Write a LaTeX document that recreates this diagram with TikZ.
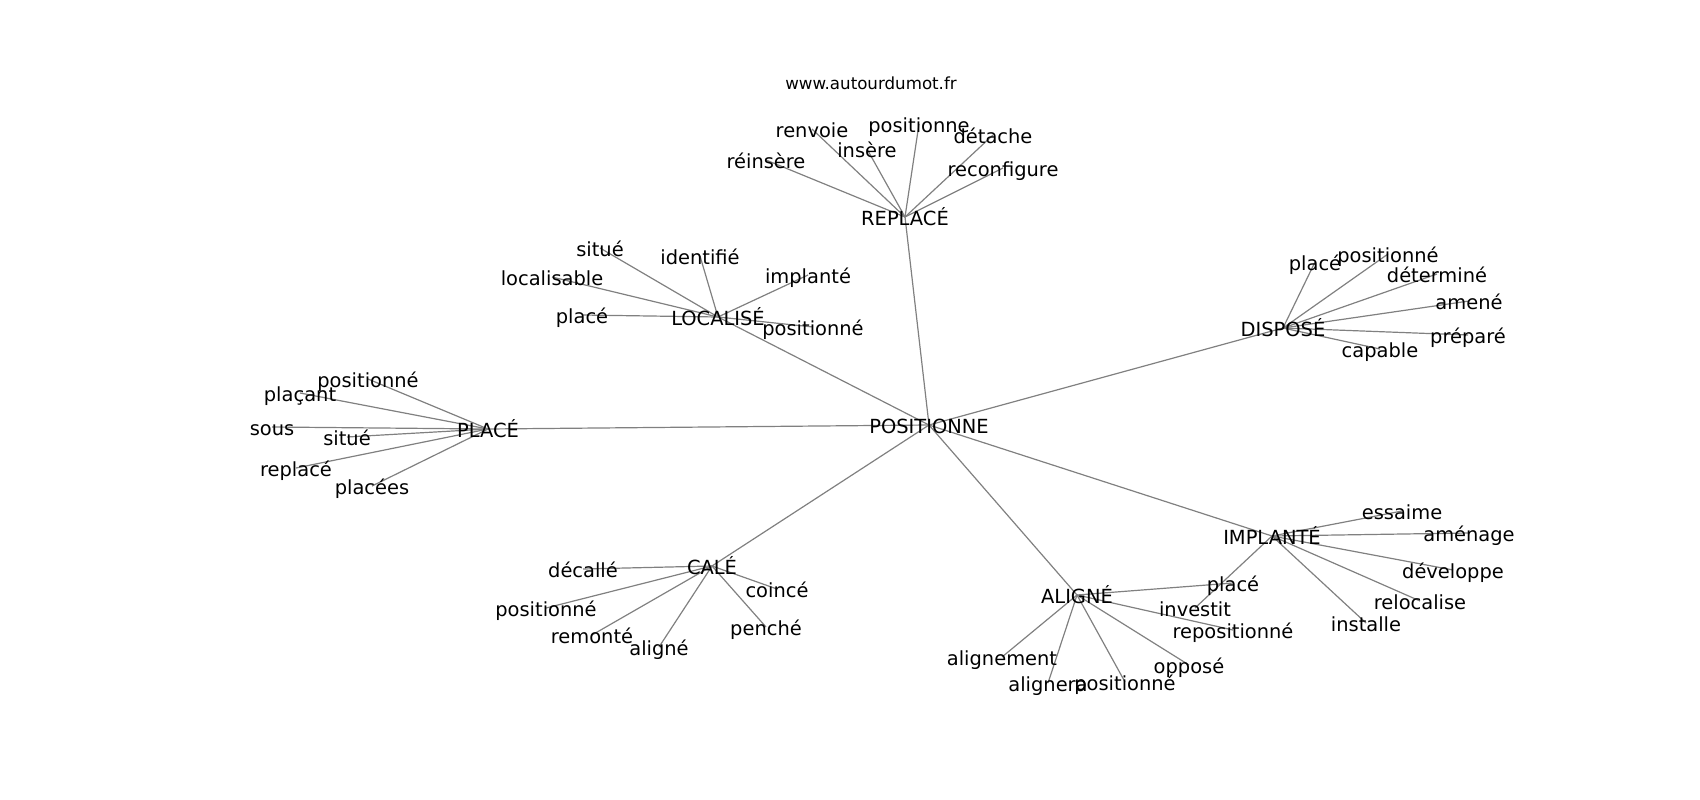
\documentclass[tikz,border=0pt]{standalone}
\usepackage{fontspec}
\setmainfont{DejaVu Sans}
\usetikzlibrary{backgrounds}
\begin{document}
\begin{tikzpicture}[x=1pt,y=-1pt,
  lbl/.style={font=\fontsize{19.44}{23}\selectfont, inner sep=0pt, text height=17.6pt, text depth=1pt, anchor=center},
  ttl/.style={font=\fontsize{16.67}{20}\selectfont, inner sep=0pt, text height=14.2pt, text depth=0.8pt, anchor=center},
  edge/.style={draw=gray, line width=1.2pt}]
\useasboundingbox (0,0) rectangle (1700,800);
\node[ttl] (title) at (871,83) {www.autourdumot.fr};
% hubs
\node[lbl] (P) at (929,425) {POSITIONNE};
\node[lbl] (R) at (905,217) {REPLACÉ};
\node[lbl] (L) at (718,317) {LOCALISÉ};
\node[lbl] (PL) at (488,429) {PLACÉ};
\node[lbl] (D) at (1283,328) {DISPOSÉ};
\node[lbl] (I) at (1272,536) {IMPLANTÉ};
\node[lbl] (A) at (1077,595) {ALIGNÉ};
\node[lbl] (C) at (712,566) {CALÉ};
% REPLACÉ
\node[lbl] (r1) at (766,160) {réinsère};
\node[lbl] (r2) at (812,129) {renvoie};
\node[lbl] (r3) at (867,149) {insère};
\node[lbl] (r4) at (919,124) {positionne};
\node[lbl] (r5) at (993,135) {détache};
\node[lbl] (r6) at (1003,168) {reconfigure};
% LOCALISÉ
\node[lbl] (l1) at (600,248) {situé};
\node[lbl] (l2) at (552,277) {localisable};
\node[lbl] (l3) at (700,256) {identifié};
\node[lbl] (l4) at (808,275) {implanté};
\node[lbl] (l5) at (582,315) {placé};
\node[lbl] (l6) at (813,327) {positionné};
% PLACÉ
\node[lbl] (p1) at (368,379) {positionné};
\node[lbl] (p2) at (300,393) {plaçant};
\node[lbl] (p3) at (272,427) {sous};
\node[lbl] (p4) at (347,437) {situé};
\node[lbl] (p5) at (296,468) {replacé};
\node[lbl] (p6) at (372,486) {placées};
% DISPOSÉ
\node[lbl] (d1) at (1315,262) {placé};
\node[lbl] (d2) at (1388,254) {positionné};
\node[lbl] (d3) at (1437,274) {déterminé};
\node[lbl] (d4) at (1469,301) {amené};
\node[lbl] (d5) at (1468,335) {préparé};
\node[lbl] (d6) at (1380,349) {capable};
% IMPLANTÉ
\node[lbl] (i1) at (1402,511) {essaime};
\node[lbl] (i2) at (1469,533) {aménage};
\node[lbl] (i3) at (1453,570) {développe};
\node[lbl] (i4) at (1420,601) {relocalise};
\node[lbl] (i5) at (1366,623) {installe};
\node[lbl] (i6) at (1195,608) {investit};
% ALIGNÉ
\node[lbl] (a1) at (1233,583) {placé};
\node[lbl] (a2) at (1233,630) {repositionné};
\node[lbl] (a3) at (1189,665) {opposé};
\node[lbl] (a4) at (1125,682) {positionné};
\node[lbl] (a5) at (1048,683) {alignera};
\node[lbl] (a6) at (1002,657) {alignement};
% CALÉ
\node[lbl] (c1) at (583,569) {décallé};
\node[lbl] (c2) at (546,608) {positionné};
\node[lbl] (c3) at (592,635) {remonté};
\node[lbl] (c4) at (659,647) {aligné};
\node[lbl] (c5) at (777,589) {coincé};
\node[lbl] (c6) at (766,627) {penché};
\begin{pgfonlayer}{background}
\foreach \h in {R,L,PL,D,I,A,C} \draw[edge] (P.center) -- (\h.center);
\foreach \c in {1,...,6} {
  \draw[edge] (R.center) -- (r\c.center);
  \draw[edge] (L.center) -- (l\c.center);
  \draw[edge] (PL.center) -- (p\c.center);
  \draw[edge] (D.center) -- (d\c.center);
  \draw[edge] (I.center) -- (i\c.center);
  \draw[edge] (A.center) -- (a\c.center);
  \draw[edge] (C.center) -- (c\c.center);
}
\end{pgfonlayer}
\end{tikzpicture}
\end{document}
